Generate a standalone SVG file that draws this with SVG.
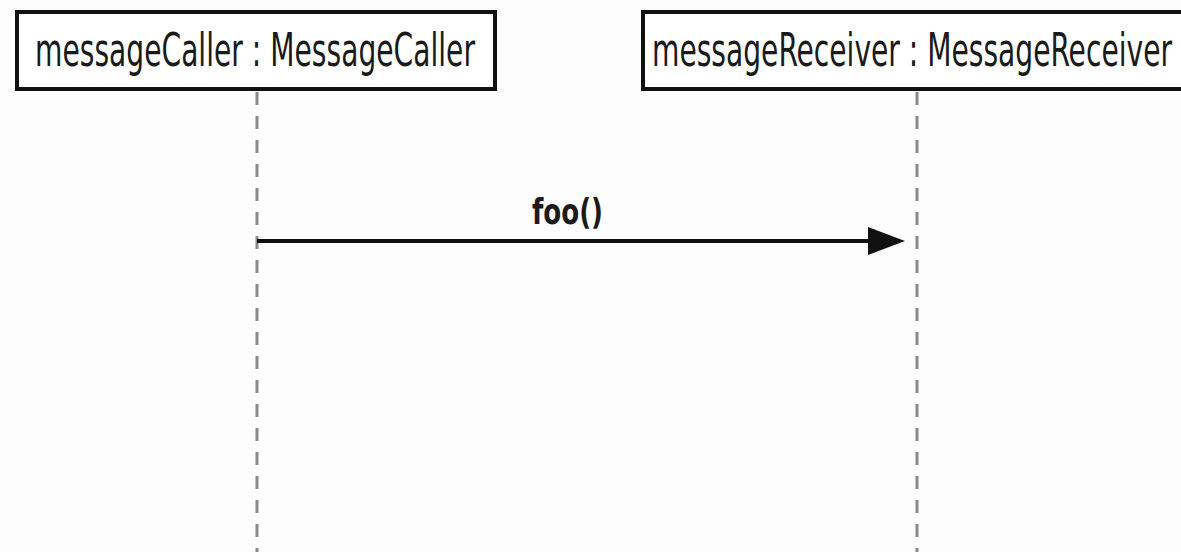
<svg xmlns="http://www.w3.org/2000/svg" width="1181" height="552" viewBox="0 0 1181 552">
<style>
.box{fill:#fff;stroke:#111;stroke-width:4}
.lbl{font-family:"Liberation Sans Narrow","DejaVu Sans Condensed","Liberation Sans",sans-serif;font-size:46px;fill:#1a1a1a}
.life{stroke:#8a8a8a;stroke-width:3;stroke-dasharray:13 11;fill:none}
.msg{stroke:#111;stroke-width:4;fill:none}
.mlbl{font-family:"Liberation Sans Narrow","DejaVu Sans Condensed","Liberation Sans",sans-serif;font-size:35px;font-weight:bold;fill:#1a1a1a}
</style>
<defs>
<marker id="arr" markerUnits="userSpaceOnUse" markerWidth="40" markerHeight="30" refX="24" refY="14" orient="auto">
<path d="M1,0 L38,14 L1,28 Z" fill="#111"/>
</marker>
</defs>
<rect width="1181" height="552" fill="#fdfdfd"/>
<g id="connectors">
<line class="life" x1="257" y1="92" x2="257" y2="552"/>
<line class="life" x1="917" y1="92" x2="917" y2="552"/>
<line class="msg" x1="257" y1="241" x2="891" y2="241" marker-end="url(#arr)"/>
<text class="mlbl" x="532" y="224" textLength="71" lengthAdjust="spacingAndGlyphs">foo()</text>
</g>
<g id="messageCaller">
<rect class="box" x="17" y="12" width="478" height="77"/>
<text class="lbl" x="35" y="66" textLength="440" lengthAdjust="spacingAndGlyphs">messageCaller : MessageCaller</text>
</g>
<g id="messageReceiver">
<rect class="box" x="643" y="12" width="560" height="77"/>
<text class="lbl" x="652" y="66" textLength="520" lengthAdjust="spacingAndGlyphs">messageReceiver : MessageReceiver</text>
</g>
</svg>
